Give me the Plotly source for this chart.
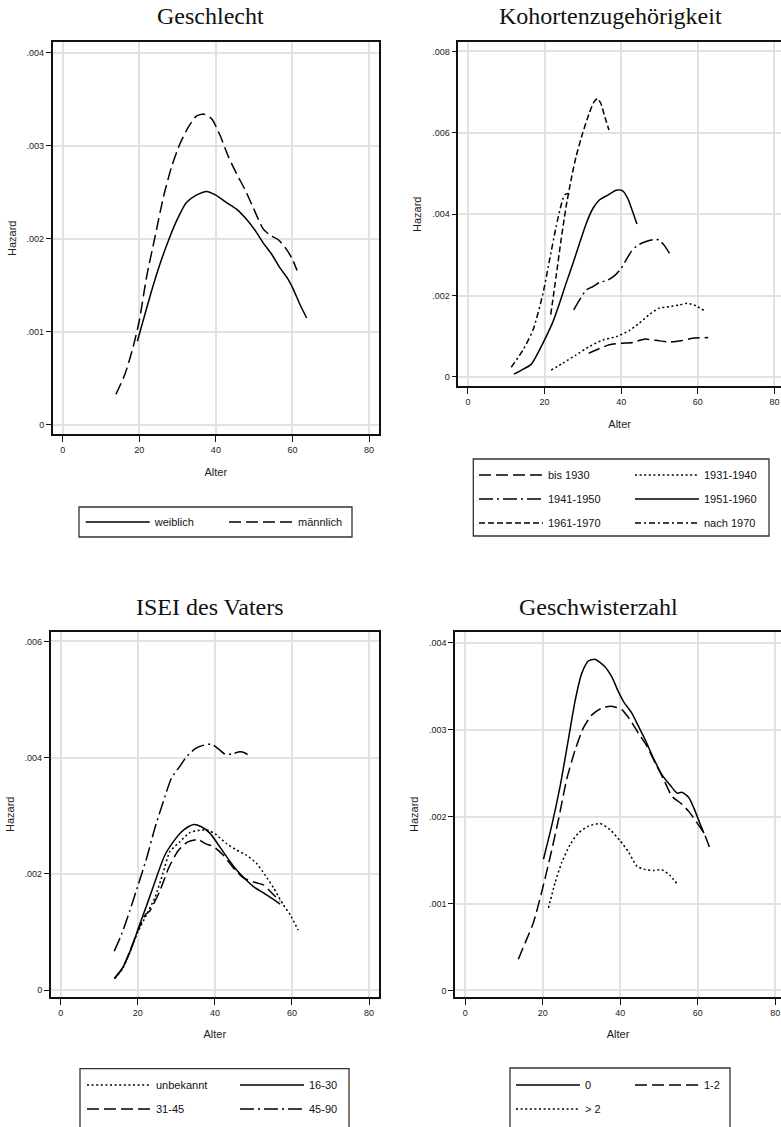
import plotly.graph_objects as go

W, H = 781, 1127

# ---------------- data ----------------
# Panel 1: Geschlecht
p1_age_w = [19.5, 21.0, 23.2, 25.4, 27.6, 29.7, 32.3, 34.9, 37.6, 40.0, 42.8, 45.4, 48.0, 50.6, 52.3, 54.5, 56.7, 58.8, 60.2, 61.9, 63.7]
p1_haz_w = [0.00090, 0.00112, 0.00144, 0.00173, 0.00198, 0.00219, 0.00239, 0.00247, 0.00251, 0.00247, 0.00239, 0.00232, 0.00221, 0.00207, 0.00196, 0.00184, 0.00169, 0.00157, 0.00146, 0.00130, 0.00115]
p1_age_m = [13.9, 16.3, 18.4, 20.0, 21.9, 24.1, 26.3, 28.4, 30.6, 32.8, 34.9, 36.9, 38.9, 41.1, 43.2, 45.4, 47.6, 49.7, 52.3, 54.1, 56.3, 58.4, 60.0, 61.2]
p1_haz_m = [0.00033, 0.00055, 0.00084, 0.00112, 0.00159, 0.00202, 0.00245, 0.00277, 0.00302, 0.00320, 0.00332, 0.00334, 0.00329, 0.00311, 0.00289, 0.00270, 0.00253, 0.00234, 0.00211, 0.00204, 0.00199, 0.00189, 0.00178, 0.00166]

# Panel 2: Kohortenzugehoerigkeit
p2_age_b1930 = [31.5, 34.3, 36.9, 40.0, 43.0, 46.0, 49.1, 52.6, 55.6, 58.7, 62.7]
p2_haz_b1930 = [0.00058, 0.00070, 0.00079, 0.00083, 0.00085, 0.00093, 0.00090, 0.00086, 0.00089, 0.00095, 0.00097]
p2_age_1931 = [21.7, 24.8, 28.2, 31.7, 35.2, 38.7, 42.1, 44.7, 47.3, 49.9, 52.6, 55.2, 57.3, 59.5, 61.7]
p2_haz_1931 = [0.00017, 0.00034, 0.00054, 0.00075, 0.00091, 0.00099, 0.00114, 0.00132, 0.00153, 0.00169, 0.00173, 0.00177, 0.00181, 0.00175, 0.00163]
p2_age_1941 = [27.6, 29.1, 30.9, 32.6, 34.3, 36.5, 38.5, 40.0, 41.3, 42.6, 44.3, 46.5, 48.6, 49.9, 51.2, 52.6]
p2_haz_1941 = [0.00165, 0.00189, 0.00214, 0.00222, 0.00232, 0.00238, 0.00251, 0.00267, 0.00288, 0.00308, 0.00324, 0.00333, 0.00338, 0.00337, 0.00324, 0.00304]
p2_age_1951 = [12.0, 14.0, 16.5, 18.7, 20.4, 22.2, 23.9, 25.6, 27.4, 29.1, 30.9, 32.6, 34.3, 36.5, 38.7, 40.3, 41.7, 43.0, 44.1]
p2_haz_1951 = [0.00007, 0.00017, 0.00031, 0.00067, 0.00099, 0.00136, 0.00181, 0.00230, 0.00279, 0.00328, 0.00378, 0.00414, 0.00435, 0.00447, 0.00459, 0.00458, 0.00439, 0.00406, 0.00376]
p2_age_1961 = [21.6, 23.0, 24.3, 25.6, 26.9, 28.2, 29.9, 31.6, 32.9, 33.8, 34.7, 35.6, 36.8]
p2_haz_1961 = [0.00153, 0.00247, 0.00337, 0.00418, 0.00484, 0.00541, 0.00598, 0.00647, 0.00676, 0.00684, 0.00672, 0.00643, 0.00607]
p2_age_n1970 = [11.3, 14.4, 17.0, 19.6, 21.3, 23.0, 24.3, 25.2, 26.1, 26.5]
p2_haz_n1970 = [0.00024, 0.00067, 0.00116, 0.00206, 0.00288, 0.00369, 0.00422, 0.00447, 0.00451, 0.00443]

# Panel 3: ISEI des Vaters
p3_age_unb = [14.0, 16.0, 18.0, 20.0, 22.3, 24.5, 26.5, 28.3, 30.9, 33.5, 36.1, 38.3, 40.4, 43.0, 45.6, 48.2, 50.8, 53.0, 55.2, 57.7, 59.5, 61.6]
p3_haz_unb = [0.00020, 0.00036, 0.00066, 0.00100, 0.00130, 0.00160, 0.00200, 0.00238, 0.00255, 0.00271, 0.00275, 0.00275, 0.00267, 0.00252, 0.00241, 0.00232, 0.00218, 0.00198, 0.00176, 0.00147, 0.00130, 0.00103]
p3_age_1630 = [13.9, 16.2, 18.4, 20.5, 22.7, 24.8, 27.0, 29.2, 31.3, 33.1, 34.5, 36.5, 38.7, 40.9, 43.0, 45.2, 47.4, 50.0, 52.6, 54.7, 56.9]
p3_haz_1630 = [0.00020, 0.00040, 0.00073, 0.00113, 0.00153, 0.00193, 0.00232, 0.00255, 0.00272, 0.00281, 0.00285, 0.00281, 0.00270, 0.00250, 0.00230, 0.00210, 0.00194, 0.00178, 0.00167, 0.00158, 0.00148]
p3_age_3145 = [14.0, 16.0, 18.0, 20.0, 22.0, 23.1, 25.7, 28.0, 30.5, 33.0, 35.7, 37.5, 39.6, 42.2, 44.8, 47.4, 50.0, 52.6, 54.3, 56.9]
p3_haz_3145 = [0.00020, 0.00037, 0.00068, 0.00102, 0.00130, 0.00136, 0.00170, 0.00210, 0.00240, 0.00255, 0.00259, 0.00252, 0.00247, 0.00232, 0.00210, 0.00193, 0.00186, 0.00181, 0.00170, 0.00153]
p3_age_4590 = [13.9, 15.8, 17.9, 20.1, 22.3, 24.4, 26.6, 28.7, 30.9, 32.6, 34.8, 36.9, 39.1, 40.9, 42.6, 44.3, 46.5, 47.8, 49.1]
p3_haz_4590 = [0.00067, 0.00096, 0.00136, 0.00181, 0.00227, 0.00278, 0.00324, 0.00364, 0.00385, 0.00401, 0.00415, 0.00421, 0.00423, 0.00415, 0.00406, 0.00406, 0.00410, 0.00408, 0.00402]

# Panel 4: Geschwisterzahl
p4_age_0 = [20.2, 22.3, 24.5, 26.6, 28.4, 30.1, 31.8, 33.5, 35.7, 37.8, 39.5, 40.9, 43.0, 44.7, 46.5, 48.6, 50.8, 52.9, 54.7, 55.9, 57.7, 59.0, 60.5, 61.6]
p4_haz_0 = [0.00151, 0.00189, 0.00235, 0.00288, 0.00334, 0.00365, 0.00379, 0.00381, 0.00374, 0.00361, 0.00344, 0.00332, 0.00319, 0.00304, 0.00288, 0.00267, 0.00248, 0.00236, 0.00227, 0.00228, 0.00222, 0.00210, 0.00193, 0.00181]
p4_age_12 = [13.7, 15.5, 17.6, 19.9, 22.0, 24.1, 26.2, 28.4, 30.5, 32.7, 35.3, 37.8, 40.4, 42.6, 44.7, 46.9, 49.0, 51.2, 53.4, 55.5, 57.7, 59.8, 61.6, 63.1]
p4_haz_12 = [0.00036, 0.00055, 0.00078, 0.00116, 0.00155, 0.00197, 0.00243, 0.00277, 0.00302, 0.00317, 0.00325, 0.00327, 0.00323, 0.00311, 0.00296, 0.00281, 0.00262, 0.00243, 0.00223, 0.00216, 0.00206, 0.00193, 0.00181, 0.00164]
p4_age_g2 = [21.5, 23.2, 24.9, 27.1, 29.2, 31.8, 34.8, 37.4, 40.0, 42.2, 44.3, 46.5, 48.6, 50.7, 52.9, 54.8]
p4_haz_g2 = [0.00095, 0.00124, 0.00147, 0.00168, 0.00181, 0.00189, 0.00192, 0.00185, 0.00172, 0.00159, 0.00143, 0.00139, 0.00138, 0.00139, 0.00132, 0.00122]

titles = ["Geschlecht", "Kohortenzugehörigkeit", "ISEI des Vaters", "Geschwisterzahl"]
x_ticks = [0, 20, 40, 60, 80]
y_ticks_p1 = [0, 0.001, 0.002, 0.003, 0.004]
y_text_p1 = ["0", ".001", ".002", ".003", ".004"]
y_ticks_p2 = [0, 0.002, 0.004, 0.006, 0.008]
y_text_p2 = ["0", ".002", ".004", ".006", ".008"]
y_ticks_p3 = [0, 0.002, 0.004, 0.006]
y_text_p3 = ["0", ".002", ".004", ".006"]
y_ticks_p4 = [0, 0.001, 0.002, 0.003, 0.004]
y_text_p4 = ["0", ".001", ".002", ".003", ".004"]

# ---------------- styles ----------------
SOLID = "solid"
LONGDASH = "12px,5px"
SHORTDASH = "6px,3px"
DOT = "2px,2.6px"
LONGDASHDOT = "14px,4px,2px,4px"
SHORTDASHDOT = "6px,3px,2px,3px"

fig = go.Figure()

def px_x(p):
    return p / W

def px_y(p):
    return 1 - p / H

def add(x, y, name, dash, ax, legend, group):
    fig.add_trace(go.Scatter(
        x=x, y=y, name=name, mode="lines",
        line=dict(color="black", width=1.5, dash=dash, shape="spline", smoothing=0.6),
        xaxis="x" + ("" if ax == 1 else str(ax)),
        yaxis="y" + ("" if ax == 1 else str(ax)),
        legend=legend, legendgroup=group,
    ))

add(p1_age_w, p1_haz_w, "weiblich", SOLID, 1, "legend", "a1")
add(p1_age_m, p1_haz_m, "männlich", LONGDASH, 1, "legend2", "a2")

add(p2_age_b1930, p2_haz_b1930, "bis 1930", LONGDASH, 2, "legend3", "b1")
add(p2_age_1941, p2_haz_1941, "1941-1950", LONGDASHDOT, 2, "legend3", "b2")
add(p2_age_1961, p2_haz_1961, "1961-1970", SHORTDASH, 2, "legend3", "b3")
add(p2_age_1931, p2_haz_1931, "1931-1940", DOT, 2, "legend4", "b4")
add(p2_age_1951, p2_haz_1951, "1951-1960", SOLID, 2, "legend4", "b5")
add(p2_age_n1970, p2_haz_n1970, "nach 1970", SHORTDASHDOT, 2, "legend4", "b6")

add(p3_age_unb, p3_haz_unb, "unbekannt", DOT, 3, "legend5", "c1")
add(p3_age_3145, p3_haz_3145, "31-45", LONGDASH, 3, "legend5", "c2")
add(p3_age_1630, p3_haz_1630, "16-30", SOLID, 3, "legend6", "c3")
add(p3_age_4590, p3_haz_4590, "45-90", LONGDASHDOT, 3, "legend6", "c4")

add(p4_age_0, p4_haz_0, "0", SOLID, 4, "legend7", "d1")
add(p4_age_g2, p4_haz_g2, "> 2", DOT, 4, "legend7", "d2")
add(p4_age_12, p4_haz_12, "1-2", LONGDASH, 4, "legend8", "d3")

tickfont = dict(family="Liberation Sans, Arial, sans-serif", size=9, color="#222")
titlefont = dict(family="Liberation Sans, Arial, sans-serif", size=11, color="#222")
GRID = "#e2e2e2"

def xax(domain, rng, mirror, anchor):
    return dict(domain=domain, range=rng, anchor=anchor, tickvals=x_ticks,
                showgrid=True, gridcolor=GRID, gridwidth=1.5, zeroline=False,
                showline=True, linecolor="#111", linewidth=1.5, mirror=mirror,
                ticks="outside", ticklen=6, tickwidth=1, tickcolor="#111",
                tickfont=tickfont, title=dict(text="Alter", font=titlefont, standoff=14))

def yax(domain, rng, vals, text, mirror, anchor):
    return dict(domain=domain, range=rng, anchor=anchor, tickvals=vals, ticktext=text,
                showgrid=True, gridcolor=GRID, gridwidth=1.5, zeroline=False,
                showline=True, linecolor="#111", linewidth=1.5, mirror=mirror,
                ticks="outside", ticklen=5, tickwidth=1, tickcolor="#111",
                tickfont=tickfont, title=dict(text="Hazard", font=titlefont, standoff=8))

layout = dict(
    width=W, height=H, margin=dict(l=0, r=0, t=0, b=0, autoexpand=False),
    paper_bgcolor="white", plot_bgcolor="white", showlegend=True,
    xaxis=xax([px_x(52.7), px_x(379)], [-2.61, 82.6], True, "y"),
    yaxis=yax([px_y(434.3), px_y(42.3)], [-0.0001, 0.004112], y_ticks_p1, y_text_p1, True, "x"),
    xaxis2=xax([px_x(458.3), 1.0], [-2.53, 81.72], True, "y2"),
    yaxis2=yax([px_y(386.3), px_y(42.3)], [-0.000229, 0.008224], y_ticks_p2, y_text_p2, False, "x2"),
    xaxis3=xax([px_x(50.7), px_x(379)], [-2.59, 82.57], True, "y3"),
    yaxis3=yax([px_y(997), px_y(631.5)], [-0.00012, 0.00617], y_ticks_p3, y_text_p3, True, "x3"),
    xaxis4=xax([px_x(455), 1.0], [-2.63, 81.5], True, "y4"),
    yaxis4=yax([px_y(997), px_y(631.5)], [-0.000075, 0.004129], y_ticks_p4, y_text_p4, False, "x4"),
)

legfont = dict(family="Liberation Sans, Arial, sans-serif", size=11, color="#111")
leg_pos = {
    "legend": (85.7, 522), "legend2": (229, 522),
    "legend3": (479, 475), "legend4": (635, 475),
    "legend5": (87, 1085), "legend6": (240, 1085),
    "legend7": (516, 1085), "legend8": (635, 1085),
}
for k, (xs, yc) in leg_pos.items():
    layout[k] = dict(x=px_x(xs - 5), y=px_y(yc - 14.5), xanchor="left", yanchor="top",
                     orientation="v", bgcolor="rgba(0,0,0,0)", borderwidth=0,
                     font=legfont, itemwidth=64, tracegroupgap=5, traceorder="grouped",
                     itemclick=False, itemdoubleclick=False)

shapes = []
for (x0, x1, y0, y1) in [(79, 352, 507, 537), (473.3, 769, 459, 536), (80, 349, 1068.6, 1140), (510, 730, 1068, 1140)]:
    shapes.append(dict(type="rect", xref="paper", yref="paper",
                       x0=px_x(x0), x1=px_x(x1), y0=px_y(y1), y1=px_y(y0),
                       line=dict(color="#333", width=1.3), fillcolor="rgba(0,0,0,0)", layer="below"))
layout["shapes"] = shapes

annotations = []
for t, (cx, cy) in zip(titles, [(210, 16), (610, 16), (210, 606.5), (598, 606.5)]):
    annotations.append(dict(text=t, x=px_x(cx), y=px_y(cy), xref="paper", yref="paper",
                            xanchor="center", yanchor="middle", showarrow=False,
                            font=dict(family="Liberation Serif, serif", size=24, color="#111")))
layout["annotations"] = annotations

fig.update_layout(**layout)
fig.write_html("out.html")
